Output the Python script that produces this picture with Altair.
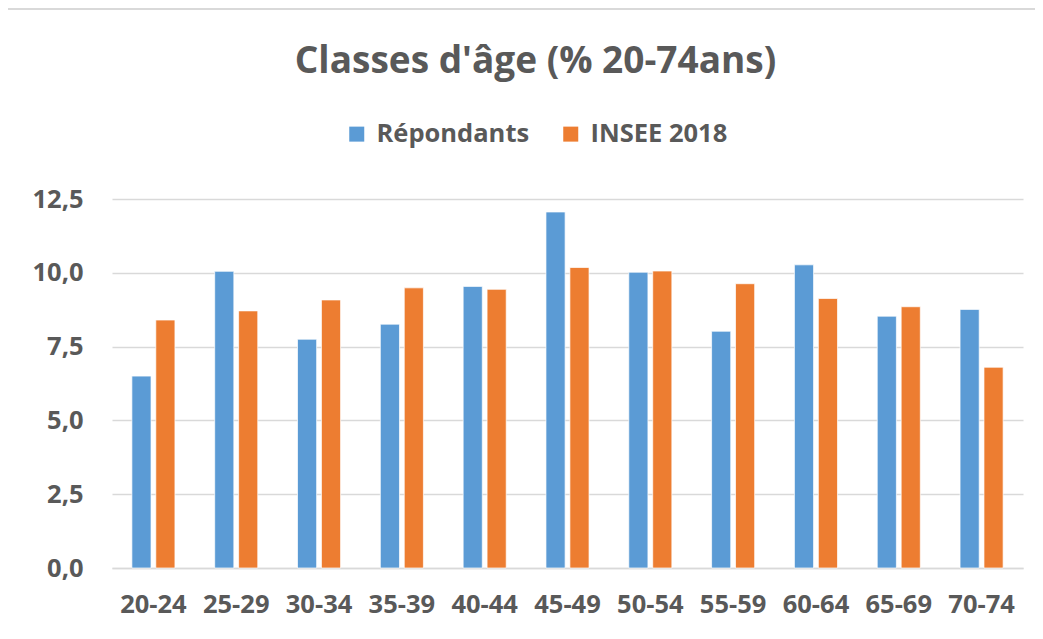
import altair as alt
import pandas as pd

categories = ["20-24", "25-29", "30-34", "35-39", "40-44", "45-49",
              "50-54", "55-59", "60-64", "65-69", "70-74"]
repondants = [6.5, 10.05, 7.75, 8.26, 9.54, 12.06, 10.02, 8.02, 10.27, 8.53, 8.76]
insee_2018 = [8.4, 8.71, 9.08, 9.49, 9.44, 10.18, 10.06, 9.63, 9.13, 8.85, 6.8]
series_names = ["Répondants", "INSEE 2018"]
series_colors = ["#5B9BD5", "#ED7D31"]

rows = []
for c, r, i in zip(categories, repondants, insee_2018):
    rows.append({"classe": c, "serie": series_names[0], "valeur": r})
    rows.append({"classe": c, "serie": series_names[1], "valeur": i})
df = pd.DataFrame(rows)

FONT = "Open Sans, sans-serif"
GREY = "#595959"

bars = alt.Chart(df).mark_bar(stroke="white", strokeWidth=1, strokeOpacity=0.7).encode(
    x=alt.X("classe:N", sort=categories, title=None,
            scale=alt.Scale(paddingInner=0.48, paddingOuter=0.24),
            axis=alt.Axis(labelAngle=0, labelFontSize=25.5, labelFont=FONT,
                          labelFontWeight="bold", labelColor=GREY, labelPadding=24,
                          ticks=False, domainColor="#d9d9d9", domainWidth=1.5)),
    xOffset=alt.XOffset("serie:N", sort=series_names,
                        scale=alt.Scale(paddingInner=0.2)),
    y=alt.Y("valeur:Q", title=None,
            scale=alt.Scale(domain=[0, 12.5], nice=False),
            axis=alt.Axis(values=[0, 2.5, 5, 7.5, 10, 12.5],
                          labelExpr="replace(format(datum.value, '.1f'), '.', ',')",
                          labelFontSize=25.5, labelFont=FONT, labelFontWeight="bold",
                          labelColor=GREY, labelPadding=29, ticks=False, domain=False,
                          gridColor="#d9d9d9", gridWidth=1.5)),
    color=alt.Color("serie:N", sort=series_names,
                    scale=alt.Scale(domain=series_names, range=series_colors),
                    legend=alt.Legend(title=None, orient="none", direction="horizontal",
                                      legendX=232, legendY=-78,
                                      symbolType="square", symbolSize=225,
                                      symbolStrokeWidth=0,
                                      labelFont=FONT, labelFontSize=25.5,
                                      labelFontWeight="bold", labelColor=GREY,
                                      columnPadding=28, labelOffset=7)),
)

frame = alt.Chart(df).mark_rect(fill=None, stroke="#d9d9d9", strokeWidth=1.5).encode(
    x=alt.value(-108), x2=alt.value(960), y=alt.value(-190), y2=alt.value(480)
)

chart = alt.layer(frame, bars).properties(
    width=911, height=369,
    padding={"left": 104, "top": 191, "right": 12, "bottom": 60},
    autosize=alt.AutoSizeParams(type="none"),
    title=alt.TitleParams("Classes d'âge (% 20-74ans)", font=FONT, fontSize=37,
                          fontWeight="bold", color=GREY, anchor="middle",
                          dx=-32, offset=-73),
).configure_view(stroke=None)

chart.save("out.html", embed_options={"renderer": "svg", "actions": False})
